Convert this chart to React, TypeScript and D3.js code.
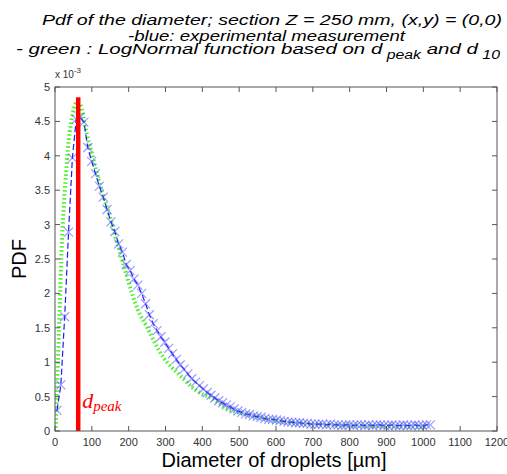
import React from "react";
import * as d3 from "d3";

// ---- data (PDF values in units of 1e-3) ----
const blueDiameters = [
  5.4, 15.9, 26.3, 36.8, 47.2, 57.7, 68.1, 78.6, 89.0, 99.5,
  109.9, 120.4, 130.8, 141.3, 151.7, 162.2, 172.6, 183.1, 193.5, 204.0,
  214.4, 224.9, 235.3, 245.8, 256.2, 266.7, 277.1, 287.6, 298.0, 308.5,
  318.9, 329.4, 339.8, 350.3, 360.7, 371.2, 381.6, 392.1, 402.5, 413.0,
  423.4, 433.9, 444.3, 454.8, 465.2, 475.7, 486.1, 496.6, 507.0, 517.5,
  527.9, 538.4, 548.8, 559.3, 569.7, 580.2, 590.6, 601.1, 611.5, 622.0,
  632.4, 642.9, 653.3, 663.8, 674.2, 684.7, 695.1, 705.6, 716.0, 726.5,
  736.9, 747.4, 757.8, 768.3, 778.7, 789.2, 799.6, 810.1, 820.5, 831.0,
  841.4, 851.9, 862.3, 872.8, 883.2, 893.7, 904.1, 914.6, 925.0, 935.5,
  945.9, 956.4, 966.8, 977.3, 987.7, 998.2, 1008.6, 1019.1,
];
const blueValues = [
  0.30, 0.67, 1.66, 2.89, 3.97, 4.53, 4.56, 4.49, 4.12, 3.92,
  3.74, 3.56, 3.40, 3.22, 3.04, 2.90, 2.72, 2.60, 2.42, 2.33,
  2.21, 2.12, 2.00, 1.85, 1.69, 1.56, 1.46, 1.37, 1.29, 1.20,
  1.12, 1.04, 0.96, 0.90, 0.83, 0.76, 0.71, 0.66, 0.61, 0.56,
  0.52, 0.48, 0.44, 0.41, 0.38, 0.35, 0.32, 0.29, 0.27, 0.25,
  0.24, 0.22, 0.21, 0.20, 0.18, 0.17, 0.17, 0.16, 0.15, 0.14,
  0.13, 0.13, 0.12, 0.12, 0.11, 0.11, 0.10, 0.10, 0.10, 0.10,
  0.09, 0.10, 0.09, 0.09, 0.08, 0.09, 0.09, 0.08, 0.09, 0.09,
  0.08, 0.09, 0.08, 0.09, 0.09, 0.08, 0.08, 0.09, 0.08, 0.08,
  0.09, 0.08, 0.08, 0.09, 0.08, 0.08, 0.09, 0.09,
];

const greenDiameters = [
  2, 5, 8, 11, 14, 17, 21, 26, 30, 35, 40, 46, 52, 60, 68, 74, 80, 87,
  100, 114, 128, 150, 165, 185, 209, 225, 250, 277, 293, 339, 394, 421,
  475, 529, 557, 600, 650, 700, 800, 900, 1010,
];
const greenValues = [
  0.05, 0.5, 1.0, 1.5, 2.0, 2.5, 3.0, 3.45, 3.75, 4.10, 4.35, 4.55, 4.70, 4.78, 4.75, 4.64, 4.48, 4.30,
  4.04, 3.74, 3.47, 3.10, 2.80, 2.44, 2.00, 1.76, 1.51, 1.22, 1.08, 0.81, 0.55, 0.49,
  0.31, 0.23, 0.20, 0.15, 0.12, 0.10, 0.08, 0.07, 0.06,
];

const dPeak = 63;
const dPeakTop = 4.85;

const xTicks = [0, 100, 200, 300, 400, 500, 600, 700, 800, 900, 1000, 1100, 1200];
const yTicks = [0, 0.5, 1, 1.5, 2, 2.5, 3, 3.5, 4, 4.5, 5];
const yTickLabels = ["0", "0.5", "1", "1.5", "2", "2.5", "3", "3.5", "4", "4.5", "5"];

const W = 507;
const H = 474;
const left = 55;
const right = 497;
const top = 87;
const bottom = 431;

export default function App() {
  const x = d3.scaleLinear().domain([0, 1200]).range([left, right]);
  const y = d3.scaleLinear().domain([0, 5]).range([bottom, top]);

  const blue = blueDiameters.map((d, i) => [d, blueValues[i]] as [number, number]);
  const green = greenDiameters.map((d, i) => [d, greenValues[i]] as [number, number]);

  const line = d3
    .line<[number, number]>()
    .x((p) => x(p[0]))
    .y((p) => y(p[1]));
  const greenLine = d3
    .line<[number, number]>()
    .x((p) => x(p[0]))
    .y((p) => y(p[1]))
    .curve(d3.curveMonotoneX);

  const axisColor = "#555";
  const tickLen = 5;
  const font = "Arial, 'Liberation Sans', sans-serif";

  return (
    <svg
      width={W}
      height={H}
      style={{ position: "absolute", left: 0, top: 0, background: "#fff" }}
      fontFamily={font}
    >
      <rect x={0} y={0} width={W} height={H} fill="#fff" />
      {/* title */}
      <g fontStyle="italic" fontSize={15.5} fill="#000">
        <text x={42} y={25} textLength={460} lengthAdjust="spacingAndGlyphs">
          Pdf of the diameter; section Z = 250 mm, (x,y) = (0,0)
        </text>
        <text x={128} y={40.5} textLength={277} lengthAdjust="spacingAndGlyphs">
          -blue: experimental measurement
        </text>
        <text x={16} y={54} textLength={484} lengthAdjust="spacingAndGlyphs">
          - green : LogNormal function based on d
          <tspan fontSize={12} dy={5}> peak</tspan>
          <tspan dy={-5}> and d</tspan>
          <tspan fontSize={12} dy={5}> 10</tspan>
        </text>
      </g>

      {/* plot data */}
      <defs>
        <clipPath id="plotclip">
          <rect x={left} y={top - 10} width={right - left} height={bottom - top + 10} />
        </clipPath>
      </defs>
      <g clipPath="url(#plotclip)">
        <path
          d={greenLine(green) || ""}
          fill="none"
          stroke="#44f022"
          strokeWidth={4}
          strokeDasharray="1.5,2.5"
        />
        <path
          d={line(blue) || ""}
          fill="none"
          stroke="#1a1aff"
          strokeWidth={1.2}
          strokeDasharray="6,3"
        />
        {blue.map((p, i) => {
          const cx = x(p[0]);
          const cy = y(p[1]);
          const s = 4.5;
          return (
            <path
              key={i}
              d={`M${cx - s},${cy - s}L${cx + s},${cy + s}M${cx - s},${cy + s}L${cx + s},${cy - s}`}
              stroke="#4a4aff"
              strokeOpacity={0.55}
              strokeWidth={1.2}
              fill="none"
            />
          );
        })}
        <line
          x1={x(dPeak)}
          x2={x(dPeak)}
          y1={y(0)}
          y2={y(dPeakTop)}
          stroke="#ff0000"
          strokeWidth={4.5}
        />
      </g>

      {/* d_peak label */}
      <text
        x={x(dPeak) + 4}
        y={408}
        fill="#ff0000"
        fontFamily="'Liberation Serif', 'DejaVu Serif', serif"
        fontStyle="italic"
      >
        <tspan fontSize={22}>d</tspan>
        <tspan fontSize={15} dy={3}>peak</tspan>
      </text>

      {/* axes box */}
      <rect
        x={left}
        y={top}
        width={right - left}
        height={bottom - top}
        fill="none"
        stroke={axisColor}
        strokeWidth={1}
      />
      {xTicks.map((t) => (
        <g key={"x" + t}>
          <line x1={x(t)} x2={x(t)} y1={bottom} y2={bottom - tickLen} stroke={axisColor} />
          <line x1={x(t)} x2={x(t)} y1={top} y2={top + tickLen} stroke={axisColor} />
          <text x={x(t)} y={446} fontSize={11} textAnchor="middle" fill="#333">
            {t}
          </text>
        </g>
      ))}
      {yTicks.map((t, i) => (
        <g key={"y" + t}>
          <line x1={left} x2={left + tickLen} y1={y(t)} y2={y(t)} stroke={axisColor} />
          <line x1={right} x2={right - tickLen} y1={y(t)} y2={y(t)} stroke={axisColor} />
          <text x={50} y={y(t) + 4} fontSize={11} textAnchor="end" fill="#333">
            {yTickLabels[i]}
          </text>
        </g>
      ))}

      {/* exponent */}
      <text x={55} y={78} fontSize={10} fill="#333">
        x 10<tspan fontSize={8} dy={-5}>-3</tspan>
      </text>

      {/* axis labels */}
      <text x={274} y={467} fontSize={20} textAnchor="middle" fill="#000">
        Diameter of droplets [µm]
      </text>
      <text
        transform={`translate(26,${(top + bottom) / 2}) rotate(-90)`}
        fontSize={20}
        textAnchor="middle"
        fill="#000"
      >
        PDF
      </text>
    </svg>
  );
}
